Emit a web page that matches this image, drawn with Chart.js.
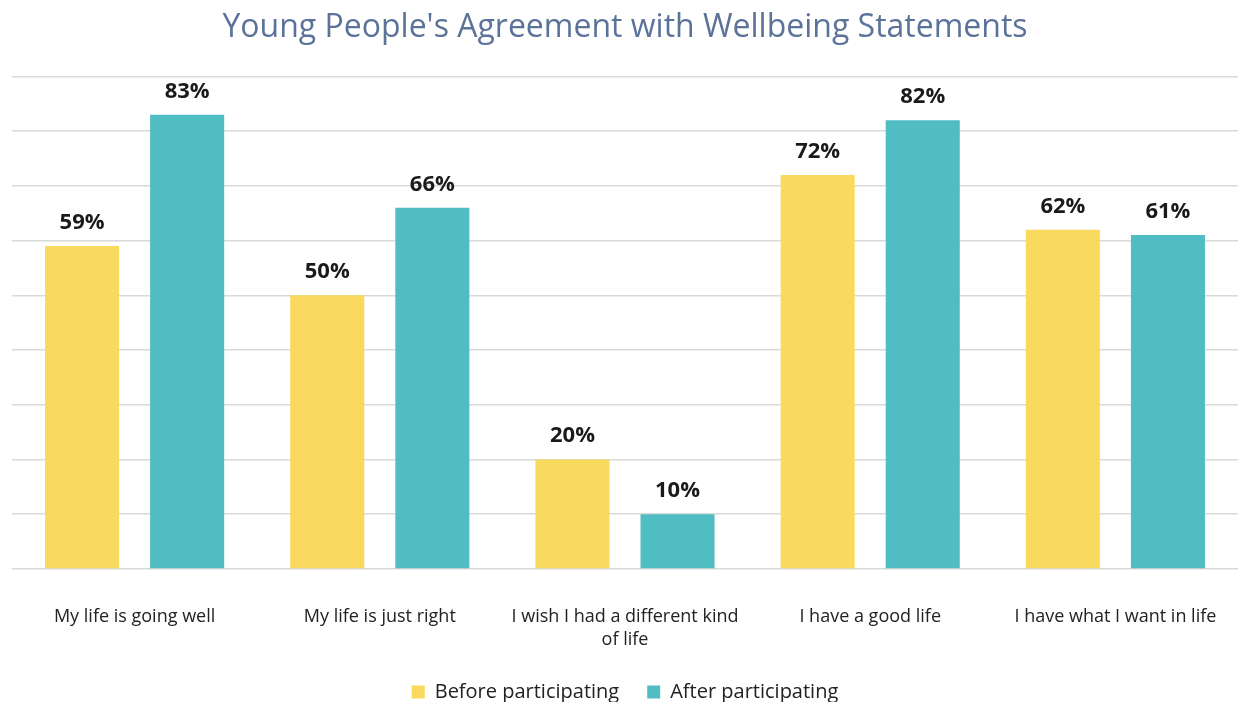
<!DOCTYPE html>
<html>
<head>
<meta charset="utf-8">
<script src="https://cdn.jsdelivr.net/npm/chart.js@4"></script>
<style>
  body { margin: 0; background: #fff; }
  #wrap { width: 1238px; height: 702px; }
</style>
</head>
<body>
<div id="wrap"><canvas id="wellbeing_chart"></canvas></div>
<script>
// data
const statements = [
    'My life is going well',
    'My life is just right',
    ['I wish I had a different kind', 'of life'],
    'I have a good life',
    'I have what I want in life'
];
const before = [59, 50, 20, 72, 62];
const after = [83, 66, 10, 82, 61];

const fontName = '"Open Sans", Lato, sans-serif';

// value labels above each bar
const barLabels = {
    id: 'barLabels',
    afterDatasetsDraw(chart) {
        const c = chart.ctx;
        c.save();
        c.font = 'bold 22px ' + fontName;
        c.fillStyle = '#1a1a1a';
        c.textAlign = 'center';
        c.textBaseline = 'alphabetic';
        chart.data.datasets.forEach((ds, i) => {
            chart.getDatasetMeta(i).data.forEach((bar, j) => {
                c.fillText(ds.data[j] + '%', bar.x, bar.y - 17);
            });
        });
        c.restore();
    }
};

var ctx = document.getElementById('wellbeing_chart');
var chart = new Chart(ctx, {
    type: 'bar',
    data: {
        labels: statements,
        datasets: [
            {
                label: 'Before participating',
                data: before,
                backgroundColor: '#F9DA5E',
                categoryPercentage: 0.857,
                barPercentage: 0.705
            },
            {
                label: 'After participating',
                data: after,
                backgroundColor: '#50BDC2',
                categoryPercentage: 0.857,
                barPercentage: 0.705
            }
        ]
    },
    options: {
        responsive: true,
        maintainAspectRatio: false,
        animation: false,
        layout: { padding: { left: 12, right: 0, top: 0, bottom: -10 } },
        scales: {
            x: {
                grid: { display: false },
                border: { display: false },
                ticks: {
                    color: '#222',
                    font: { family: fontName, size: 18, lineHeight: 1.28 },
                    padding: 28,
                    maxRotation: 0
                },
                // the axis box is taller than its labels need, and the
                // end labels fit inside their categories
                afterFit: function (scale) {
                    scale.height -= 25;
                    scale.paddingLeft = 0;
                    scale.paddingRight = 0;
                }
            },
            y: {
                min: 0,
                max: 90,
                ticks: { stepSize: 10, display: false },
                border: { display: false },
                grid: { color: '#d9d9d9', lineWidth: 1.5, drawTicks: false }
            }
        },
        plugins: {
            title: {
                display: true,
                text: "Young People's Agreement with Wellbeing Statements",
                color: '#5B7399',
                font: { family: fontName, size: 32, weight: 'normal' },
                padding: { top: 9, bottom: 29 }
            },
            legend: {
                position: 'bottom',
                labels: {
                    color: '#222',
                    font: { family: fontName, size: 20 },
                    boxWidth: 13,
                    boxHeight: 13,
                    padding: 28
                }
            },
            tooltip: { enabled: false }
        }
    },
    plugins: [barLabels]
});
</script>
</body>
</html>
